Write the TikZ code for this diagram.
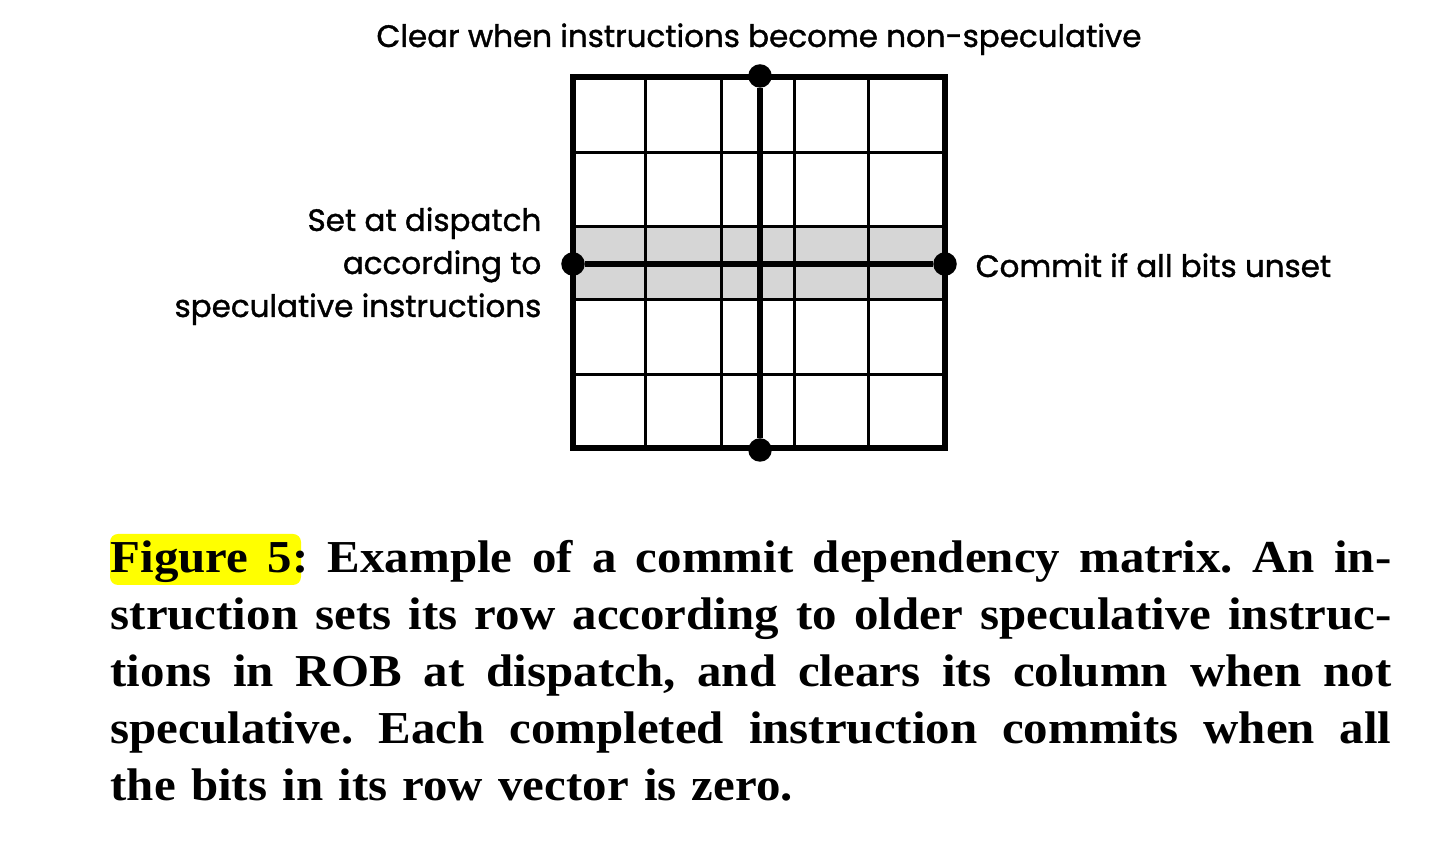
\documentclass[tikz,border=0pt]{standalone}
\usepackage{fontspec}
\setmainfont[FakeStretch=1.07]{Liberation Serif}
\newfontfamily\labfont[FakeBold=1.2]{Poppins}
\definecolor{bandgray}{HTML}{D6D6D6}
\definecolor{hlyellow}{HTML}{FFFF00}
\tikzset{
  thinline/.style={line width=0.85pt},
  thickline/.style={line width=1.45pt},
  dotnode/.style={circle, fill=black, inner sep=0pt, minimum size=0.235cm},
  lab/.style={font=\labfont\fontsize{8.8}{10}\selectfont, inner sep=0pt},
}
\newcommand{\capline}[1]{\leavevmode\hbox to 12.8cm{\spaceskip=0.25em plus 1fil\relax #1}}
\begin{document}
\begin{tikzpicture}[x=0.01cm,y=-0.01cm]
\useasboundingbox (0,0) rectangle (1448,868);
% shaded row
\fill[bandgray] (573,227) rectangle (945,300);
% thin grid
\foreach \xx in {645.7,721,794.3,868.3} \draw[thinline] (\xx,77) -- (\xx,448);
\foreach \yy in {152.5,227,300,375} \draw[thinline] (573,\yy) -- (945,\yy);
% outer border
\draw[thickline] (573,77) rectangle (945,448);
% dots
\node[dotnode] (top) at (760,76) {};
\node[dotnode] (bot) at (760,450) {};
\node[dotnode] (lft) at (573,264) {};
\node[dotnode] (rgt) at (945,264) {};
\draw[thickline] (top) -- (bot);
\draw[thickline] (lft) -- (rgt);
% labels
\node[lab, anchor=base] (toplab) at (759,47) {Clear when instructions become non-speculative};
\node[lab, anchor=base east] (l1) at (542,231) {Set at dispatch};
\node[lab, anchor=base east] (l2) at (542,274) {according to};
\node[lab, anchor=base east] (l3) at (542,317) {speculative instructions};
\node[lab, anchor=base west] (rlab) at (975,277) {Commit if all bits unset};
% caption highlight
\fill[hlyellow, rounded corners=0.08cm] (110,534) rectangle (301,585);
\node[anchor=north west, inner sep=0pt, text width=12.8cm, font=\bfseries\fontsize{13}{16.2}\selectfont\frenchspacing] (cap) at (110,540) {%
\capline{Figure 5: Example of a commit dependency matrix. An in-}\\
\capline{struction sets its row according to older speculative instruc-}\\
\capline{tions in ROB at dispatch, and clears its column when not}\\
\capline{speculative. Each completed instruction commits when all}\\
the bits in its row vector is zero.};
\end{tikzpicture}
\end{document}
